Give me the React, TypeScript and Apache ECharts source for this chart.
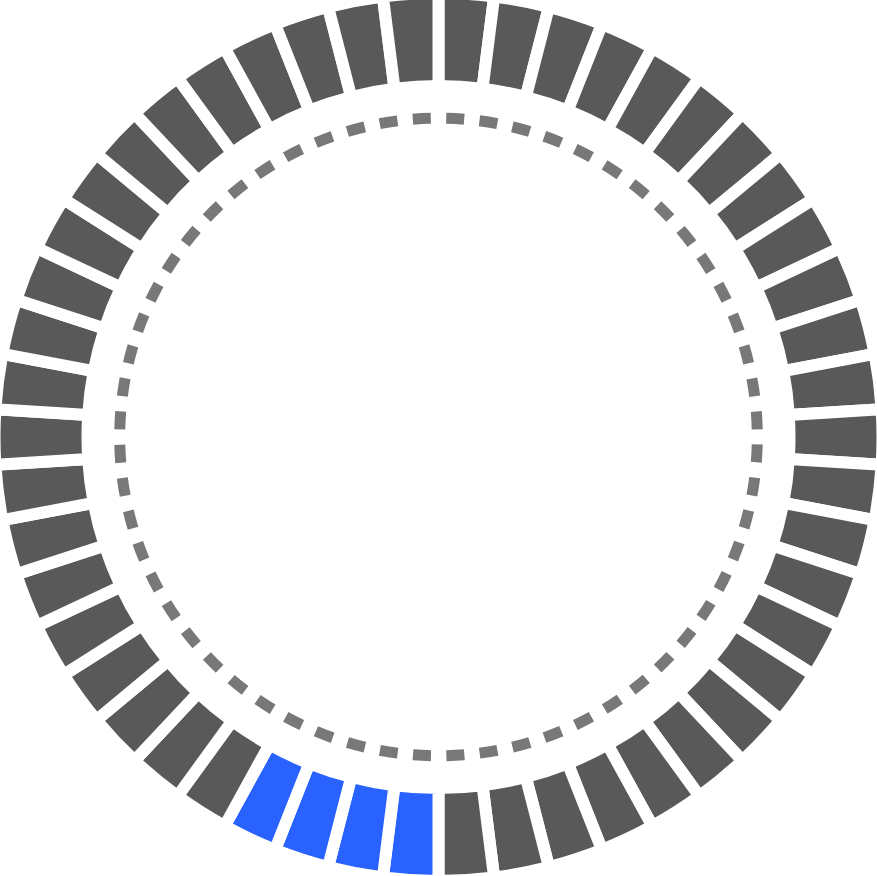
import React, { useEffect, useRef } from "react";
import * as echarts from "echarts";

// 50 equal segments, clockwise from 12 o'clock
const segmentValues = [
  1, 1, 1, 1, 1, 1, 1, 1, 1, 1,
  1, 1, 1, 1, 1, 1, 1, 1, 1, 1,
  1, 1, 1, 1, 1, 1, 1, 1, 1, 1,
  1, 1, 1, 1, 1, 1, 1, 1, 1, 1,
  1, 1, 1, 1, 1, 1, 1, 1, 1, 1,
];
// indices of the highlighted segments
const highlightedSegments = [25, 26, 27, 28];
// number of dashes on the inner guide circle
const dashCount = 60;

const GREY = "#595959";
const BLUE = "#2962ff";
const DASH = "#787878";

export default function App() {
  const ref = useRef<HTMLDivElement>(null);

  useEffect(() => {
    if (!ref.current) return;
    const chart = echarts.init(ref.current, undefined, { renderer: "svg" });

    const cx = 438.5;
    const cy = 437;
    const dashR = 318.8;
    const period = (2 * Math.PI * dashR) / dashCount;
    const dashLen = 18;
    const gapLen = period - dashLen;

    const data = segmentValues.map((v, i) => ({
      value: v,
      name: "s" + i,
      itemStyle: { color: highlightedSegments.includes(i) ? BLUE : GREY },
    }));

    chart.setOption({
      animation: false,
      backgroundColor: "#ffffff",
      series: [
        {
          type: "pie",
          center: [cx, cy],
          radius: [351, 444],
          startAngle: 90,
          clockwise: true,
          silent: true,
          avoidLabelOverlap: false,
          label: { show: false },
          labelLine: { show: false },
          emphasis: { disabled: true },
          itemStyle: { borderColor: "#ffffff", borderWidth: 12 },
          data,
        },
      ],
      graphic: [
        {
          type: "circle",
          silent: true,
          shape: { cx, cy, r: dashR },
          style: {
            fill: "none",
            stroke: DASH,
            lineWidth: 11,
            lineDash: [dashLen, gapLen],
            lineDashOffset: dashLen + gapLen / 2,
          },
        },
      ],
    });

    return () => chart.dispose();
  }, []);

  return (
    <div
      ref={ref}
      style={{ position: "fixed", left: 0, top: 0, width: 877, height: 876 }}
    />
  );
}
